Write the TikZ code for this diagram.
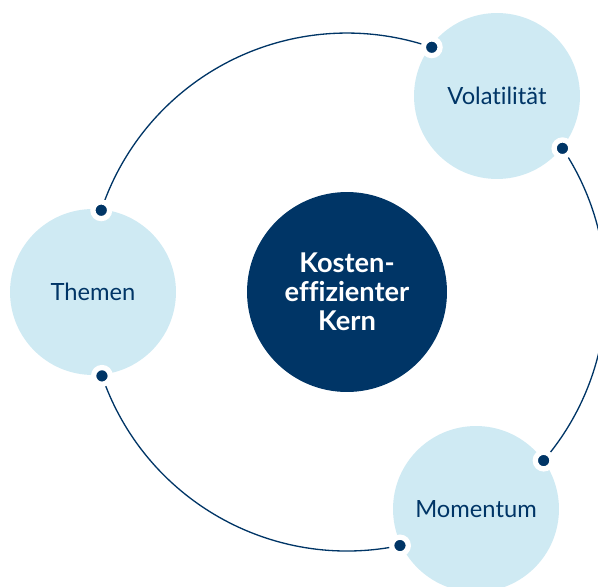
\documentclass[tikz,border=0pt]{standalone}
\usepackage{fontspec}
\setmainfont{Lato}[Ligatures=NoCommon]
\usepackage{xcolor}
\usetikzlibrary{positioning}

\definecolor{kernBlue}{RGB}{0,53,102}
\definecolor{softBlue}{RGB}{207,234,243}

\begin{document}
\begin{tikzpicture}[ % Kern und drei Satelliten auf einem Ring
    x=0.02cm, y=0.02cm, % 1 Einheit = 1 Pixel
    core/.style={circle, fill=kernBlue, minimum size=4cm, inner sep=0pt, text=white, align=center, font=\fontsize{15.5}{16.6}\selectfont\bfseries},
    satellite/.style={circle, fill=softBlue, minimum size=3.32cm, inner sep=0pt, text=kernBlue, font=\fontsize{13.5}{16}\selectfont},
    dot/.style={circle, fill=kernBlue, draw=white, line width=3pt, minimum size=0.334cm, inner sep=0pt},
    ring/.style={draw=kernBlue, line width=0.75pt}
    ]
    \useasboundingbox (0,0) rectangle (598,586);

    % Kern
    \node [core] (kern) at (347,294) {Kosten-\\effizienter\\Kern};

    % Satelliten
    \node [satellite] (volatility) at (497,490) {Volatilität};
    \node [satellite] (themes) at (93,294) {Themen};
    \node [satellite] (momentum) at (476,77) {Momentum};

    % Punkte auf dem Ring
    \coordinate (volIn) at ([shift={(70.9:259)}]kern.center);
    \coordinate (volOut) at ([shift={(33.7:259)}]kern.center);
    \coordinate (momIn) at ([shift={(-40.6:259)}]kern.center);
    \coordinate (momOut) at ([shift={(-78.2:259)}]kern.center);
    \coordinate (themIn) at ([shift={(198.9:259)}]kern.center);
    \coordinate (themOut) at ([shift={(161.6:259)}]kern.center);

    % Ringbögen
    \path [ring] (themOut) arc[start angle=161.6, end angle=70.9, radius=5.18cm];
    \path [ring] (volOut) arc[start angle=33.7, end angle=-40.6, radius=5.18cm];
    \path [ring] (momOut) arc[start angle=-78.2, end angle=-161.1, radius=5.18cm];

    % Punkte über den Bögen
    \foreach \d in {volIn, volOut, momIn, momOut, themIn, themOut}
        \node [dot] (\d Dot) at (\d) {};

\end{tikzpicture}
\end{document}
